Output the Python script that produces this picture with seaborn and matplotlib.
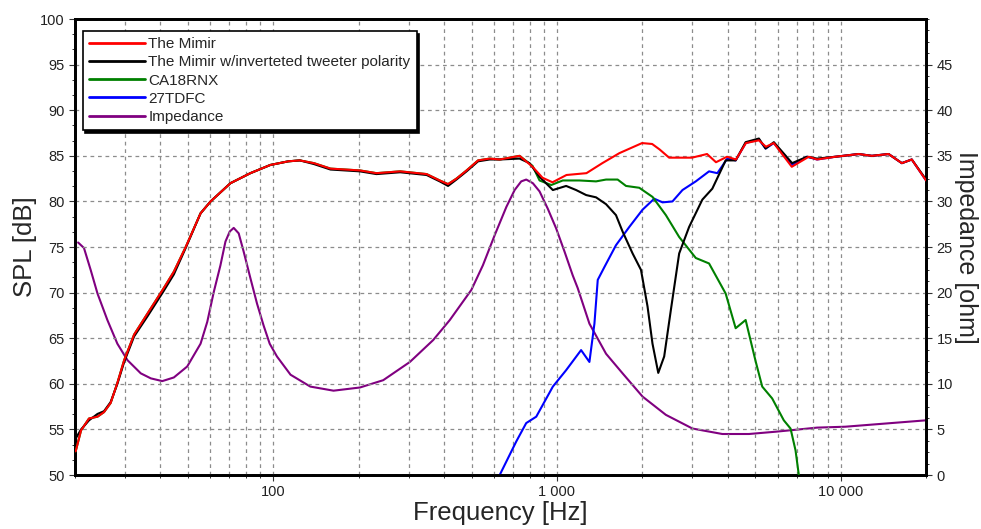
import matplotlib
matplotlib.use("Agg")
import matplotlib.pyplot as plt
import seaborn as sns
from matplotlib.ticker import FixedLocator, FixedFormatter, LogLocator, NullFormatter, AutoMinorLocator, MultipleLocator

# --- data ---
mimir_freq = [20.1, 21.0, 22.4, 24.0, 25.3, 26.7, 28.2, 29.8, 32.3, 36.0, 41.1, 44.6, 49.1,
              55.4, 60.1, 70.6, 83.0, 97.6, 113, 124, 139, 159, 202, 231, 280, 347, 386,
              413, 442, 480, 527, 579, 628, 738, 820, 889, 964, 1080, 1270, 1445, 1660,
              1995, 2165, 2300, 2485, 2990, 3380, 3635, 3975, 4275, 4635, 5150, 5450,
              5810, 6725, 7718, 8254, 9580, 11570, 12880, 14750, 16430, 17810, 20000]
mimir_spl = [52.6, 54.9, 56.2, 56.4, 56.9, 57.9, 60.1, 62.6, 65.4, 67.7, 70.5, 72.3, 75.0,
             78.7, 80.0, 82.0, 83.1, 84.0, 84.4, 84.5, 84.2, 83.6, 83.4, 83.1, 83.3, 83.0, 82.3,
             81.9, 82.5, 83.4, 84.5, 84.7, 84.6, 85.0, 83.8, 82.6, 82.1, 82.9, 83.1, 84.2, 85.3,
             86.4, 86.3, 85.7, 84.8, 84.8, 85.2, 84.3, 84.9, 84.6, 86.4, 86.7, 86.0,
             86.4, 83.8, 84.9, 84.6, 84.9, 85.2, 85.0, 85.2, 84.2, 84.6, 82.3]

inv_freq = [20.1, 21.0, 22.4, 24.0, 25.3, 26.7, 28.2, 29.8, 32.3, 36.0, 41.1, 44.6, 49.1,
            55.4, 60.1, 70.6, 83.0, 97.6, 113, 124, 139, 159, 202, 231, 280, 347, 386,
            413, 442, 480, 527, 579, 628, 738, 800, 868, 967, 1077, 1168, 1267, 1373,
            1489, 1614, 1703, 1847, 1977, 2085, 2171, 2275, 2387, 2520, 2696, 2922,
            3254, 3528, 3932, 4264, 4624, 5149, 5437, 5814, 6743, 7612, 8254, 9580,
            11570, 12880, 14750, 16430, 17810, 20000]
inv_spl = [54.0, 55.0, 56.0, 56.7, 57.0, 58.0, 60.0, 62.4, 65.2, 67.4, 70.2, 72.0, 74.9,
           78.7, 80.0, 82.0, 83.1, 84.0, 84.4, 84.5, 84.1, 83.5, 83.3, 83.0, 83.2, 82.9, 82.2,
           81.7, 82.4, 83.3, 84.4, 84.6, 84.6, 84.7, 84.2, 82.7, 81.25, 81.7, 81.25, 80.7, 80.45,
           79.7, 78.5, 76.7, 74.3, 72.5, 68.5, 64.4, 61.2, 63.0, 68.1, 74.3, 77.2,
           80.2, 81.4, 84.5, 84.5, 86.5, 86.9, 85.8, 86.5, 84.2, 84.9, 84.7, 84.9,
           85.2, 85.0, 85.2, 84.2, 84.6, 82.4]

woofer_freq = mimir_freq[:34] + [820, 868, 954, 1048, 1200, 1373, 1489, 1636, 1751, 1950,
                                 2171, 2420, 2696, 3085, 3436, 3932, 4264, 4624, 5012,
                                 5290, 5735, 6303, 6657, 6933, 7120, 7250]
woofer_spl = mimir_spl[:34] + [83.9, 82.3, 81.8, 82.3, 82.3, 82.2, 82.4, 82.4, 81.7, 81.5,
                               80.5, 78.5, 76.1, 73.8, 73.2, 69.9, 66.1, 67.0, 62.5,
                               59.7, 58.4, 56.0, 55.1, 52.7, 50.0, 48.0]

tweeter_freq = [600, 628, 719, 779, 845, 967, 1077, 1216, 1301, 1355, 1392, 1469, 1614,
                1798, 2003, 2202, 2355, 2553, 2769, 3085, 3436, 3675, 3985, 4264, 4624,
                5149, 5437, 5814, 6743, 7612, 8254, 9580, 11570, 12880, 14750, 16430,
                17810, 20000]
tweeter_spl = [48.0, 50.0, 53.7, 55.7, 56.4, 59.7, 61.5, 63.7, 62.4, 66.6, 71.4, 72.8, 75.2,
               77.2, 79.1, 80.3, 79.9, 80.0, 81.25, 82.2, 83.3, 83.1, 84.7, 84.5, 86.4,
               86.8, 85.8, 86.4, 84.0, 84.9, 84.6, 84.9, 85.2, 85.0, 85.2, 84.2,
               84.6, 82.3]

imp_freq = [20.5, 21.5, 22.7, 24.0, 26.0, 28.2, 30.6, 34.1, 37.0, 40.6, 44.6, 49.7, 55.4,
            58.5, 61.7, 65.1, 67.8, 70.2, 72.5, 75.5, 78.6, 83.0, 87.6, 92.4, 97.1, 103,
            115, 135, 163, 202, 244, 303, 366, 419, 499, 548, 603, 663, 709, 748, 779,
            822, 868, 928, 993, 1063, 1136, 1183, 1301, 1489, 1703, 2003, 2420, 3002,
            3827, 4750, 5893, 7120, 8254, 10390, 20000]
imp_ohm = [25.5, 24.9, 22.5, 19.9, 17.0, 14.4, 12.6, 11.15, 10.6, 10.3, 10.7, 11.9, 14.4,
           16.8, 20.1, 23.0, 25.6, 26.7, 27.1, 26.5, 24.5, 21.6, 18.8, 16.4, 14.4, 13.0,
           11.0, 9.7, 9.25, 9.6, 10.4, 12.4, 14.8, 17.0, 20.3, 23.0, 26.3, 29.4, 31.25, 32.2, 32.4,
           32.0, 31.1, 29.2, 27.05, 24.5, 21.9, 20.5, 16.6, 13.3, 11.15, 8.6, 6.6, 5.1,
           4.5, 4.5, 4.75, 5.0, 5.2, 5.3, 6.0]

x_ticks = [100, 1000, 10000]
x_tick_labels = ["100", "1 000", "10 000"]

# --- style ---
sns.set_style("ticks")
plt.rcParams["font.family"] = ["Liberation Sans", "DejaVu Sans"]

fig = plt.figure(figsize=(9.81, 5.29), dpi=100)
ax = fig.add_axes([0.0765, 0.102, 0.8675, 0.862])
ax2 = ax.twinx()
ax.set_zorder(ax2.get_zorder() + 1)
ax.patch.set_visible(False)

lw = 1.5
sns.lineplot(x=imp_freq, y=imp_ohm, ax=ax2, color="#800080", lw=lw, label="Impedance",
             estimator=None)
sns.lineplot(x=tweeter_freq, y=tweeter_spl, ax=ax, color="#0000ff", lw=lw, label="27TDFC",
             estimator=None, zorder=2)
sns.lineplot(x=woofer_freq, y=woofer_spl, ax=ax, color="#008000", lw=lw, label="CA18RNX",
             estimator=None, zorder=3)
sns.lineplot(x=inv_freq, y=inv_spl, ax=ax, color="black", lw=lw,
             label="The Mimir w/inverteted tweeter polarity", estimator=None, zorder=4)
sns.lineplot(x=mimir_freq, y=mimir_spl, ax=ax, color="#ff0000", lw=lw, label="The Mimir",
             estimator=None, zorder=5)

# axes
ax.set_xscale("log")
ax.set_xlim(20, 20000)
ax.set_ylim(50, 100)
ax2.set_ylim(0, 50)

ax.xaxis.set_major_locator(FixedLocator(x_ticks))
ax.xaxis.set_major_formatter(FixedFormatter(x_tick_labels))
ax.xaxis.set_minor_locator(LogLocator(base=10, subs=range(2, 10)))
ax.xaxis.set_minor_formatter(NullFormatter())
ax.yaxis.set_major_locator(MultipleLocator(5))
ax.yaxis.set_minor_locator(AutoMinorLocator(3))
ax2.yaxis.set_major_locator(FixedLocator(range(0, 50, 5)))
ax2.yaxis.set_minor_locator(AutoMinorLocator(4))

grid_kw = dict(color="#8c8c8c", linestyle=(0, (3, 3)), linewidth=0.9)
ax.grid(True, which="both", axis="x", **grid_kw)
ax.grid(True, which="major", axis="y", **grid_kw)
ax2.grid(False)

for a in (ax, ax2):
    for s in a.spines.values():
        s.set_visible(True)
        s.set_color("black")
        s.set_linewidth(2)
    a.tick_params(which="major", direction="out", length=4, width=0.8, colors="#333333",
                  labelsize=10.5, labelcolor="#222222")
    a.tick_params(which="minor", direction="out", length=2.5, width=0.7, colors="#333333")

ax.set_xlabel("Frequency [Hz]", fontsize=18.5, labelpad=1)
ax.set_ylabel("SPL [dB]", fontsize=18.5, labelpad=2)
ax2.set_ylabel("Impedance [ohm]", fontsize=18, rotation=270, labelpad=18)

# legend
h1, l1 = ax.get_legend_handles_labels()
h2, l2 = ax2.get_legend_handles_labels()
if ax2.get_legend():
    ax2.get_legend().remove()
order = ["The Mimir", "The Mimir w/inverteted tweeter polarity", "CA18RNX", "27TDFC", "Impedance"]
lookup = dict(zip(l1 + l2, h1 + h2))
leg = ax.legend([lookup[k] for k in order], order, loc="upper left",
                bbox_to_anchor=(0.009, 0.974), borderaxespad=0, fontsize=11,
                frameon=True, fancybox=False, edgecolor="black", framealpha=1,
                shadow={"color": "black", "alpha": 1}, handlelength=3.7,
                handletextpad=0.2, labelspacing=0.28, borderpad=0.4)
leg.get_frame().set_linewidth(1.2)
for line in leg.get_lines():
    line.set_linewidth(2)

fig.savefig("out.png", dpi=100)
